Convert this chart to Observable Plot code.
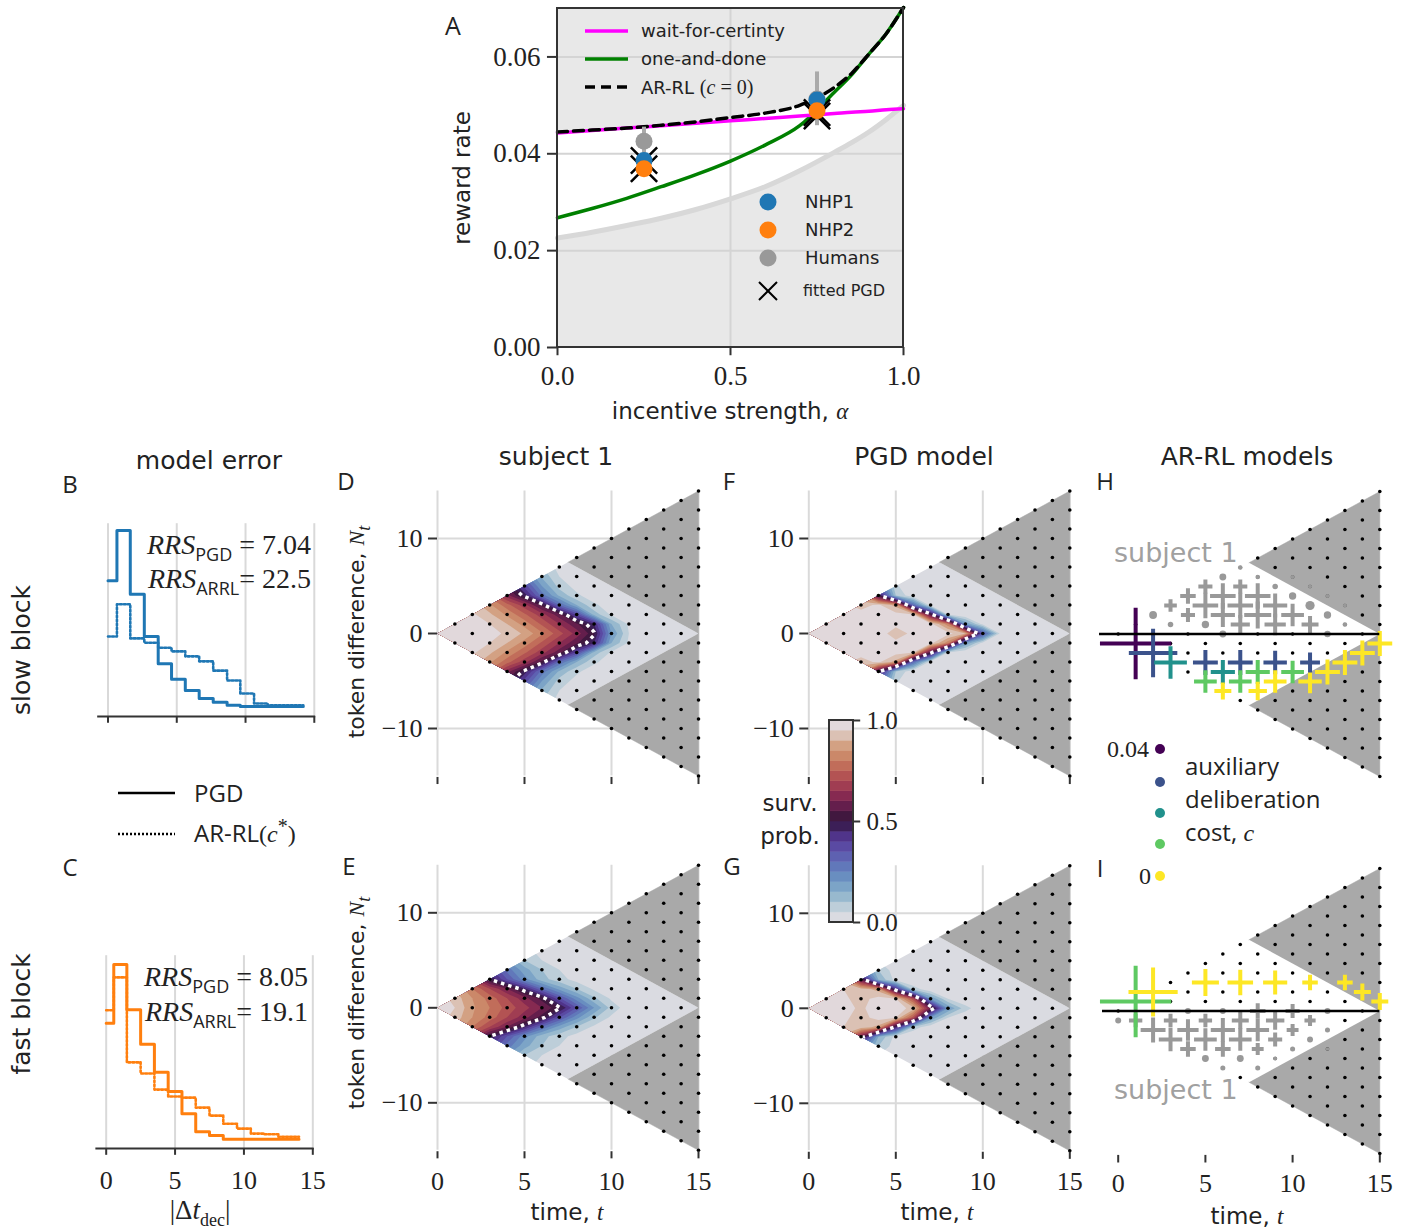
<!DOCTYPE html>
<html>
<head>
<meta charset="utf-8">
<script src="https://cdn.jsdelivr.net/npm/d3@7"></script>
<script src="https://cdn.jsdelivr.net/npm/@observablehq/plot@0.6"></script>
<style>
html,body{margin:0;padding:0;background:#fff;}
#fig{position:relative;width:1407px;height:1230px;overflow:hidden;background:#fff;color:#222;}
#fig > svg{position:absolute;left:0;top:0;}
.t{position:absolute;white-space:nowrap;line-height:1.15;}
.serif{font-family:"Liberation Serif","DejaVu Serif",serif;}
.ital{font-family:"Liberation Serif","DejaVu Serif",serif;font-style:italic;}
sub,sup{line-height:0;}
</style>
</head>
<body>
<div id="fig"></div>
<script>
// ================= DATA =================
// Panel A: reward rate vs incentive strength
const alphaGrid        = [0, 0.1, 0.2, 0.3, 0.4, 0.5, 0.6, 0.7, 0.8, 0.85, 0.9, 0.95, 1.0];
const waitForCertainty = [0.0443,0.0448,0.0453,0.0458,0.0463,0.0468,0.0473,0.0478,0.0483,0.0486,0.0488,0.0491,0.0493];
const oneAndDone       = [0.0268,0.0287,0.0308,0.0332,0.0357,0.0385,0.0418,0.0458,0.0527,0.0563,0.0606,0.0648,0.0702];
const arrlC0           = [0.0445,0.0449,0.0453,0.0459,0.0466,0.0475,0.0484,0.0500,0.0537,0.0566,0.0606,0.0648,0.0702];
const lowerBound       = [0.0226,0.0238,0.0252,0.0267,0.0285,0.0307,0.0332,0.0365,0.0403,0.0423,0.0445,0.0471,0.0500];
const aXTicks = [0, 0.5, 1.0];
const aYTicks = [0, 0.02, 0.04, 0.06];

const pointAlpha = [0.25, 0.75];
const nhp1Rate   = [0.0386, 0.0511];
const nhp2Rate   = [0.0369, 0.0489];
const humanRate  = [0.0426, 0.0513];
const humanLo    = [0.0400, 0.0458];
const humanHi    = [0.0455, 0.0569];
const pgdFitNhp1 = [0.0386, 0.0485];
const pgdFitNhp2 = [0.0369, 0.0478];

// Panels B, C: model error histograms (|Δt_dec|)
const histTicks = [0, 5, 10, 15];
const slowEdges = [0,0.65,1.62,2.64,3.65,4.62,5.62,6.63,7.65,8.66,9.62,10.62,11.62,14.2];
const slowPGD   = [0.219,0.300,0.197,0.129,0.085,0.060,0.042,0.029,0.023,0.018,0.016,0.016,0.016];
const slowARRL  = [0.129,0.181,0.126,0.119,0.111,0.105,0.097,0.089,0.074,0.058,0.037,0.021,0.018];
const fastEdges = [0,0.55,1.5,2.5,3.5,4.5,5.5,6.5,7.5,8.5,9.5,10.5,11.5,12.5,14.0];
const fastPGD   = [0.202,0.297,0.224,0.168,0.123,0.092,0.056,0.027,0.021,0.015,0.015,0.015,0.015,0.015];
const fastARRL  = [0.223,0.276,0.139,0.121,0.095,0.084,0.082,0.066,0.053,0.040,0.032,0.024,0.023,0.019];

// Panels D-G: survival probability, rows |N| = 0..8, columns t = 0..15
const survD = [
  [1.00,0.99,0.99,0.97,0.94,0.89,0.81,0.72,0.63,0.51,0.20,0.05,0.01,0,0,0],
  [0.99,0.99,0.98,0.95,0.90,0.83,0.74,0.65,0.56,0.45,0.15,0.04,0,0,0,0],
  [0.99,0.98,0.96,0.91,0.84,0.76,0.67,0.57,0.38,0.13,0.04,0,0,0,0,0],
  [0.98,0.97,0.93,0.86,0.77,0.67,0.53,0.30,0.15,0.06,0.02,0,0,0,0,0],
  [0.95,0.92,0.87,0.78,0.62,0.48,0.28,0.14,0.06,0.02,0,0,0,0,0,0],
  [0.92,0.88,0.80,0.70,0.55,0.38,0.20,0.08,0.03,0,0,0,0,0,0,0],
  [0.86,0.80,0.72,0.60,0.45,0.28,0.14,0.05,0.01,0,0,0,0,0,0,0],
  [0.80,0.72,0.62,0.50,0.38,0.22,0.10,0.03,0,0,0,0,0,0,0,0],
  [0.72,0.64,0.54,0.42,0.30,0.17,0.07,0.02,0,0,0,0,0,0,0,0]
];
const survE = [
  [1.00,0.95,0.86,0.80,0.73,0.67,0.60,0.51,0.35,0.20,0.08,0.02,0,0,0,0],
  [0.98,0.93,0.85,0.78,0.70,0.62,0.53,0.36,0.22,0.11,0.04,0.01,0,0,0,0],
  [0.97,0.90,0.80,0.70,0.60,0.46,0.30,0.18,0.10,0.04,0.01,0,0,0,0,0],
  [0.88,0.80,0.68,0.50,0.35,0.22,0.12,0.07,0.03,0.01,0,0,0,0,0,0],
  [0.78,0.68,0.55,0.42,0.28,0.17,0.10,0.05,0.02,0,0,0,0,0,0,0],
  [0.70,0.58,0.45,0.32,0.20,0.10,0.05,0.02,0,0,0,0,0,0,0,0],
  [0.60,0.48,0.35,0.25,0.15,0.08,0.02,0,0,0,0,0,0,0,0,0],
  [0.50,0.40,0.28,0.18,0.10,0.04,0.01,0,0,0,0,0,0,0,0,0],
  [0.42,0.32,0.22,0.13,0.07,0.02,0,0,0,0,0,0,0,0,0,0]
];
const survF = [
  [0.99,0.99,0.99,0.98,0.97,0.93,0.96,0.98,0.97,0.90,0.35,0.04,0,0,0,0],
  [0.99,0.99,0.99,0.98,0.97,0.96,0.97,0.97,0.82,0.20,0.03,0,0,0,0,0],
  [0.99,0.99,0.98,0.97,0.97,0.97,0.95,0.54,0.04,0,0,0,0,0,0,0],
  [0.97,0.97,0.96,0.93,0.96,0.88,0.30,0.02,0,0,0,0,0,0,0,0],
  [0.92,0.92,0.90,0.85,0.52,0.10,0.01,0,0,0,0,0,0,0,0,0],
  [0.80,0.78,0.72,0.60,0.35,0.06,0,0,0,0,0,0,0,0,0,0],
  [0.70,0.65,0.55,0.40,0.20,0.03,0,0,0,0,0,0,0,0,0,0],
  [0.60,0.50,0.40,0.25,0.10,0.01,0,0,0,0,0,0,0,0,0,0],
  [0.50,0.40,0.30,0.15,0.05,0,0,0,0,0,0,0,0,0,0,0]
];
const survG = [
  [0.99,0.99,0.97,0.94,0.98,0.98,0.93,0.58,0.20,0.07,0.01,0,0,0,0,0],
  [0.99,0.98,0.96,0.93,0.97,0.95,0.72,0.20,0.05,0.01,0,0,0,0,0,0],
  [0.98,0.97,0.95,0.93,0.88,0.45,0.08,0.01,0,0,0,0,0,0,0,0],
  [0.94,0.92,0.88,0.58,0.15,0.03,0,0,0,0,0,0,0,0,0,0],
  [0.80,0.70,0.55,0.30,0.10,0.02,0,0,0,0,0,0,0,0,0,0],
  [0.65,0.55,0.40,0.20,0.05,0,0,0,0,0,0,0,0,0,0,0],
  [0.50,0.40,0.28,0.12,0.02,0,0,0,0,0,0,0,0,0,0,0],
  [0.40,0.30,0.18,0.06,0,0,0,0,0,0,0,0,0,0,0,0],
  [0.30,0.20,0.10,0.03,0,0,0,0,0,0,0,0,0,0,0,0]
];
const timeTicks = [0, 5, 10, 15];
const tokenTicks = [-10, 0, 10];

// Panels H, I: decision states [t, N, weight] and model crosses [t, N, weight, cost]
const costLevels = [0.04, 0.03, 0.02, 0.01, 0];
const costColors = ["#440154", "#3b528b", "#21918c", "#5ec962", "#fde725"];
const subjCrossH = [[3,3,0.18],[4,4,0.22],[4,2,0.2],[5,5,0.2],[5,3,0.36],[6,4,0.36],[6,2,0.34],[7,5,0.2],
  [7,3,0.36],[7,1,0.27],[8,4,0.36],[8,2,0.38],[9,3,0.34],[9,1,0.3],[10,2,0.32],[11,1,0.24]];
const subjDotH = [[2,2,0.17],[3,1,0.12],[5,1,0.16],[6,0,0.15],[6,6,0.15],[7,7,0.1],[8,6,0.1],[9,5,0.12],
  [10,4,0.16],[11,3,0.2],[12,2,0.16],[13,1,0.1],[12,0,0.14],[10,6,0.09],[11,5,0.09],[12,4,0.09],[13,3,0.09]];
const modelH = [[15,-1,0.35,0],[14,-2,0.35,0],[13,-3,0.35,0],[12,-4,0.35,0],[11,-5,0.33,0],[9,-5,0.32,0],[8,-6,0.26,0],[6,-6,0.24,0],
  [5,-5,0.32,0.01],[7,-5,0.32,0.01],[8,-4,0.34,0.01],[10,-4,0.32,0.01],
  [3,-3,0.46,0.02],[6,-4,0.34,0.02],
  [2,-2,0.68,0.03],[5,-3,0.35,0.03],[7,-3,0.35,0.03],[9,-3,0.33,0.03],[11,-3,0.28,0.03],
  [1,-1,1.0,0.04]];
const subjCrossI = [[1,-1,0.19],[2,-2,0.35],[3,-1,0.19],[3,-3,0.33],[4,-2,0.3],[4,-4,0.22],[5,-1,0.19],[5,-3,0.32],
  [6,-2,0.34],[6,-4,0.22],[7,-1,0.24],[7,-3,0.32],[8,0,0.22],[8,-2,0.32],[8,-4,0.17],[9,-1,0.26],[9,-3,0.2],
  [10,0,0.2],[10,-2,0.17],[11,-1,0.16]];
const subjDotI = [[0,-1,0.13],[4,0,0.13],[6,0,0.13],[5,-5,0.15],[6,-6,0.11],[7,-5,0.15],[8,-6,0.11],[9,-5,0.09],
  [10,-4,0.11],[11,-3,0.13],[12,0,0.13],[12,-2,0.11],[12,-4,0.08]];
const modelI = [[2,2,0.69,0],[5,3,0.38,0],[7,3,0.36,0],[9,3,0.34,0],[11,3,0.22,0],[13,3,0.22,0],[14,2,0.24,0],[15,1,0.24,0],
  [1,1,1.0,0.01]];

// twilight-like colour stops (0 → 1)
const twilightStops = ["#e2dde3","#d2d8df","#a8c3d2","#88afca","#6f99c3","#6383bd","#5f6cb6","#5d55ab","#573e9b","#482a78",
  "#2f1436","#521b48","#76214f","#953252","#ab4751","#bb5f55","#c67b5f","#cf9472","#d6ae94","#dfd3d3","#e2dce2"];

// ================= HELPERS =================
const fig = document.getElementById("fig");
const SERIF = '"Liberation Serif","DejaVu Serif",serif';
const SANS = '"DejaVu Sans",sans-serif';
const OPEN = '"Open Sans","DejaVu Sans",sans-serif';
const base = {width: 1407, height: 1230, margin: 0, style: {background: "none", fontFamily: SANS, overflow: "visible"}};
const twilight = d3.piecewise(d3.interpolateRgb, twilightStops);
const survLevels = d3.range(20).map(k => k / 20);
const colorOpt = {type: "linear", domain: [-0.025, 0.975], interpolate: twilight};
const diamond = [[0,0],[7.5,7.5],[15,0],[7.5,-7.5]];
const triRows = [[7.5,7.5,0],[15,15,0],[15,0,0],[7.5,-7.5,1],[15,-15,1],[15,0,1]];
const lattice = [];
for (let t = 0; t <= 15; t++) for (let N = -t; N <= t; N += 2) lattice.push([t, N]);

function mount(svg) { svg.style.position = "absolute"; svg.style.left = "0px"; svg.style.top = "0px"; fig.appendChild(svg); return svg; }
let clipCount = 0;
function clipMarks(svg, label, poly) {
  const sx = svg.scale("x"), sy = svg.scale("y");
  const ns = "http://www.w3.org/2000/svg";
  const id = "clipdiamond" + (clipCount++);
  const defs = document.createElementNS(ns, "defs");
  const cp = document.createElementNS(ns, "clipPath");
  cp.setAttribute("id", id);
  const pg = document.createElementNS(ns, "polygon");
  pg.setAttribute("points", poly.map(([x, y]) => sx.apply(x) + "," + sy.apply(y)).join(" "));
  cp.appendChild(pg); defs.appendChild(cp);
  svg.insertBefore(defs, svg.firstChild);
  svg.querySelectorAll('g[aria-label="' + label + '"]').forEach(g => g.setAttribute("clip-path", "url(#" + id + ")"));
}
function txt(html, x, y, o = {}) {
  const d = document.createElement("div");
  d.className = "t";
  d.innerHTML = html;
  d.style.left = x + "px"; d.style.top = y + "px";
  d.style.fontSize = (o.size || 24) + "px";
  d.style.fontFamily = o.family || SANS;
  if (o.color) d.style.color = o.color;
  const ax = o.anchor === "start" ? "0" : o.anchor === "end" ? "-100%" : "-50%";
  d.style.transform = `translate(${ax},-50%)` + (o.rotate ? ` rotate(${o.rotate}deg)` : "");
  fig.appendChild(d);
}
const fmtTick = d => d < 0 ? "\u2212" + (-d) : String(d);

// ================= PANEL A =================
{
  const idx = alphaGrid.map((_, i) => i);
  const P = [0, 1];
  const svg = Plot.plot({...base,
    x: {domain: [0, 1], range: [557, 903], axis: null},
    y: {domain: [0, 0.07], range: [347, 8], axis: null},
    marks: [
      Plot.rect([0], {x1: 0, x2: 1, y1: 0, y2: 0.07, fill: "#e8e8e8"}),
      Plot.areaY(idx, {x: i => alphaGrid[i], y1: i => lowerBound[i], y2: i => arrlC0[i], fill: "white", curve: "monotone-x"}),
      Plot.ruleX([0.5], {y1: 0, y2: 0.07, stroke: "#d4d4d4", strokeWidth: 2}),
      Plot.ruleY([0.02, 0.04, 0.06], {x1: 0, x2: 1, stroke: "#d4d4d4", strokeWidth: 2}),
      Plot.line(idx, {x: i => alphaGrid[i], y: i => lowerBound[i], stroke: "#d8d8d8", strokeWidth: 5, curve: "monotone-x"}),
      Plot.line(idx, {x: i => alphaGrid[i], y: i => oneAndDone[i], stroke: "#008000", strokeWidth: 3.5, curve: "monotone-x"}),
      Plot.line(idx, {x: i => alphaGrid[i], y: i => waitForCertainty[i], stroke: "#ff00ff", strokeWidth: 3.5, curve: "monotone-x"}),
      Plot.line(idx, {x: i => alphaGrid[i], y: i => arrlC0[i], stroke: "black", strokeWidth: 3.5, strokeDasharray: "10,6", curve: "monotone-x"}),
      Plot.ruleX(P, {x: i => pointAlpha[i], y1: i => humanLo[i], y2: i => humanHi[i], stroke: "#aaaaaa", strokeWidth: 4}),
      Plot.dot(P, {x: i => pointAlpha[i], y: i => pgdFitNhp1[i], symbol: "times", r: 12, stroke: "black", strokeWidth: 2.5}),
      Plot.dot(P, {x: i => pointAlpha[i], y: i => pgdFitNhp2[i], symbol: "times", r: 12, stroke: "black", strokeWidth: 2.5}),
      Plot.dot(P, {x: i => pointAlpha[i], y: i => humanRate[i], r: 8.5, fill: "#999999"}),
      Plot.dot(P, {x: i => pointAlpha[i], y: i => nhp1Rate[i], r: 8.5, fill: "#1f77b4"}),
      Plot.dot(P, {x: i => pointAlpha[i], y: i => nhp2Rate[i], r: 8.5, fill: "#ff7f0e"}),
      Plot.rect([0], {x1: 0, x2: 1, y1: 0, y2: 0.07, fill: "none", stroke: "#333", strokeWidth: 2}),
      Plot.ruleY(aYTicks, {x1: -0.029, x2: 0, stroke: "#333", strokeWidth: 2}),
      Plot.ruleX(aXTicks, {y1: 0, y2: -0.0017, stroke: "#333", strokeWidth: 2}),
      Plot.text(aYTicks, {x: 0, y: d => d, text: d => d.toFixed(2), textAnchor: "end", dx: -17, fontFamily: SERIF, fontSize: 27, fill: "#222"}),
      Plot.text(aXTicks, {x: d => d, y: 0, text: d => d.toFixed(1), dy: 29, fontFamily: SERIF, fontSize: 27, fill: "#222"})
    ]
  });
  mount(svg);
}

// ================= PANELS B, C =================
function histPanel(edges, hSolid, hDot, color, xr, yr, showLabels) {
  const pts = h => edges.map((e, i) => [e, h[Math.min(i, h.length - 1)]]);
  const marks = [
    Plot.ruleX(histTicks, {y1: 0, y2: 0.311, stroke: "#d9d9d9", strokeWidth: 2}),
    Plot.ruleY([0], {x1: -0.75, x2: 15.1, stroke: "#333", strokeWidth: 2}),
    Plot.ruleX(histTicks, {y1: 0, y2: -0.011, stroke: "#333", strokeWidth: 2}),
    Plot.line(pts(hDot), {x: d => d[0], y: d => d[1], curve: "step-after", stroke: color, strokeWidth: 2.6, strokeDasharray: "2,2"}),
    Plot.line(pts(hSolid), {x: d => d[0], y: d => d[1], curve: "step-after", stroke: color, strokeWidth: 3})
  ];
  if (showLabels) marks.push(Plot.text(histTicks, {x: d => d, y: 0, text: d => String(d), dy: 32, fontFamily: SERIF, fontSize: 26, fill: "#222"}));
  mount(Plot.plot({...base,
    x: {domain: [0, 15], range: xr, axis: null},
    y: {domain: [0, 0.311], range: yr, axis: null},
    marks}));
}
histPanel(slowEdges, slowPGD, slowARRL, "#1f77b4", [107.5, 313.8], [716, 523.2], false);
histPanel(fastEdges, fastPGD, fastARRL, "#ff7f0e", [105.7, 312.3], [1148, 955.2], true);

// ================= PANELS D-G =================
function fullGrid(rows) { const out = []; for (let N = 8; N >= -8; N--) out.push(...rows[Math.abs(N)]); return out; }
function survPanel(rows, xr, yr, showX) {
  const g = fullGrid(rows);
  const cOpt = {width: 16, height: 17, x1: -0.5, x2: 15.5, y1: 8.5, y2: -8.5};
  const marks = [
    Plot.ruleX(timeTicks, {y1: -15, y2: 15, stroke: "#dadada", strokeWidth: 2}),
    Plot.ruleY(tokenTicks, {x1: 0, x2: 15, stroke: "#dadada", strokeWidth: 2}),
    Plot.contour(g, {...cOpt, thresholds: survLevels, fill: Plot.identity}),
    Plot.contour(g, {...cOpt, value: Plot.identity, thresholds: [0.5], fill: "none", stroke: "white", strokeWidth: 3.5, strokeDasharray: "3.5,4"}),
    Plot.line(triRows, {x: d => d[0], y: d => d[1], z: d => d[2], fill: "#a9a9a9", stroke: "#a9a9a9", strokeWidth: 0.5}),
    Plot.dot(lattice.filter(d => d[0] > 0), {x: d => d[0], y: d => d[1], r: 1.8, fill: "black"}),
    Plot.ruleY(tokenTicks, {x1: -0.52, x2: 0, stroke: "#333", strokeWidth: 2}),
    Plot.text(tokenTicks, {x: 0, y: d => d, text: fmtTick, textAnchor: "end", dx: -15, fontFamily: SERIF, fontSize: 26, fill: "#222"}),
    Plot.ruleX(timeTicks, {y1: -15.15, y2: -15.9, stroke: "#333", strokeWidth: 2})
  ];
  if (showX) marks.push(Plot.text(timeTicks, {x: d => d, y: -15, text: d => String(d), dy: 31, fontFamily: SERIF, fontSize: 26, fill: "#222"}));
  const svg = Plot.plot({...base,
    x: {domain: [0, 15], range: xr, axis: null},
    y: {domain: [-15, 15], range: yr, axis: null},
    color: colorOpt,
    marks});
  clipMarks(svg, "contour", diamond);
  mount(svg);
}
survPanel(survD, [437, 698], [775.5, 490.5], false);
survPanel(survE, [437, 698], [1149.8, 864.8], true);
survPanel(survF, [808.3, 1069.3], [775.5, 490.5], false);
survPanel(survG, [808.3, 1069.3], [1150.3, 865.3], true);

// ================= PANELS H, I =================
function arrlPanel(yr, subjCross, subjDots, models, showX, lineStart) {
  const marks = [
    Plot.line(triRows, {x: d => d[0], y: d => d[1], z: d => d[2], fill: "#a9a9a9", stroke: "#a9a9a9", strokeWidth: 0.5}),
    Plot.dot(lattice, {x: d => d[0], y: d => d[1], r: 1.8, fill: "black"}),
    Plot.dot(subjDots, {x: d => d[0], y: d => d[1], r: d => d[2], fill: "#999999"}),
    Plot.dot(subjCross, {x: d => d[0], y: d => d[1], r: d => d[2], symbol: "plus", stroke: "#999999", strokeWidth: 4}),
    Plot.dot(models, {x: d => d[0], y: d => d[1], r: d => d[2], symbol: "plus", stroke: d => d[3], strokeWidth: 4}),
    Plot.ruleY([0], {x1: lineStart, x2: 15, stroke: "black", strokeWidth: 2.5})
  ];
  if (showX) {
    marks.push(Plot.ruleX(timeTicks, {y1: -15.2, y2: -16, stroke: "#333", strokeWidth: 2}));
    marks.push(Plot.text(timeTicks, {x: d => d, y: -15, text: d => String(d), dy: 30, fontFamily: SERIF, fontSize: 26, fill: "#222"}));
  }
  mount(Plot.plot({...base,
    x: {domain: [0, 15], range: [1117.7, 1379.3], axis: null},
    y: {domain: [-15, 15], range: yr, axis: null},
    r: {type: "linear", domain: [0, 1], range: [0, 23]},
    color: {type: "ordinal", domain: costLevels, range: costColors},
    marks}));
}
arrlPanel([776, 491], subjCrossH, subjDotH, modelH, false, -1.07);
arrlPanel([1153, 868], subjCrossI, subjDotI, modelI, true, -0.9);

// ================= COLORBAR =================
mount(Plot.plot({...base,
  x: {domain: [0, 1], range: [829, 853], axis: null},
  y: {domain: [0, 1], range: [922, 720], axis: null},
  color: colorOpt,
  marks: [
    Plot.rect(survLevels, {x1: 0, x2: 1, y1: d => d, y2: d => d + 0.05, fill: d => d, stroke: d => d, strokeWidth: 0.5}),
    Plot.rect([0], {x1: 0, x2: 1, y1: 0, y2: 1, fill: "none", stroke: "#333", strokeWidth: 2}),
    Plot.ruleY([0, 0.5, 1], {x1: 1, x2: 1.3, stroke: "#333", strokeWidth: 2}),
    Plot.text([0, 0.5, 1], {x: 1, y: d => d, text: d => d.toFixed(1), textAnchor: "start", dx: 13, fontFamily: SERIF, fontSize: 25, fill: "#222"})
  ]
}));

// ================= LEGEND SWATCHES =================
{
  const ns = "http://www.w3.org/2000/svg";
  const s = document.createElementNS(ns, "svg");
  s.setAttribute("width", 1407); s.setAttribute("height", 1230);
  s.innerHTML = `
    <line x1="585" x2="628" y1="31" y2="31" stroke="#ff00ff" stroke-width="3.5"/>
    <line x1="585" x2="628" y1="59" y2="59" stroke="#008000" stroke-width="3.5"/>
    <line x1="585" x2="628" y1="87" y2="87" stroke="black" stroke-width="3.5" stroke-dasharray="10,6"/>
    <circle cx="768" cy="202" r="8.5" fill="#1f77b4"/>
    <circle cx="768" cy="230" r="8.5" fill="#ff7f0e"/>
    <circle cx="768" cy="258" r="8.5" fill="#999999"/>
    <path d="M759,282L777,300M777,282L759,300" stroke="black" stroke-width="2"/>
    <line x1="118" x2="175" y1="793" y2="793" stroke="black" stroke-width="2.5"/>
    <line x1="118" x2="175" y1="834" y2="834" stroke="black" stroke-width="2.5" stroke-dasharray="2,2"/>
    ${costColors.map((c, i) => `<circle cx="1160" cy="${[749,782,813,844,876][i]}" r="5" fill="${c}"/>`).join("")}
  `;
  mount(s);
}

// ================= TEXT =================
txt("A", 453, 25, {size: 25, family: OPEN});
txt("reward rate", 462, 178, {size: 23, rotate: -90});
txt('incentive strength, <span class="ital">α</span>', 730, 412, {size: 23});
txt("wait-for-certinty", 641, 31, {anchor: "start", size: 18});
txt("one-and-done", 641, 59, {anchor: "start", size: 18});
txt('AR-RL <span class="serif" style="font-size:20px">(<i>c</i> = 0)</span>', 641, 87, {anchor: "start", size: 18});
txt("NHP1", 805, 202, {anchor: "start", size: 18});
txt("NHP2", 805, 230, {anchor: "start", size: 18});
txt("Humans", 805, 258, {anchor: "start", size: 18});
txt("fitted PGD", 803, 291, {anchor: "start", size: 16});

txt("model error", 209, 461, {size: 25});
txt("subject 1", 556, 457, {size: 25});
txt("PGD model", 924, 457, {size: 25});
txt("AR-RL models", 1247, 457, {size: 25});
[["B",70,484],["C",70,867],["D",346,481],["E",349,866],["F",729,481],["G",732,866],["H",1105,481],["I",1100,868]]
  .forEach(([l, x, y]) => txt(l, x, y, {size: 24, family: OPEN}));

txt("slow block", 22, 650, {size: 25, rotate: -90});
txt("fast block", 22, 1014, {size: 25, rotate: -90});
const subS = 'style="font-family:\'Open Sans\',sans-serif;font-style:normal;font-size:18px"';
txt(`<i>RRS</i><sub ${subS}>PGD</sub> = 7.04`, 311, 545, {anchor: "end", size: 28, family: SERIF});
txt(`<i>RRS</i><sub ${subS}>ARRL</sub>= 22.5`, 311, 579, {anchor: "end", size: 28, family: SERIF});
txt(`<i>RRS</i><sub ${subS}>PGD</sub> = 8.05`, 308, 977, {anchor: "end", size: 28, family: SERIF});
txt(`<i>RRS</i><sub ${subS}>ARRL</sub>= 19.1`, 308, 1012, {anchor: "end", size: 28, family: SERIF});
txt("PGD", 194, 793, {anchor: "start", size: 24, family: OPEN});
txt('AR-RL<span class="serif">(<i>c</i><sup>*</sup>)</span>', 194, 834, {anchor: "start", size: 24, family: OPEN});
txt('|Δ<i>t</i><sub style="font-size:18px">dec</sub>|', 200, 1211, {size: 27, family: SERIF});

txt('token difference, <span class="ital">N<sub>t</sub></span>', 357, 632, {size: 22, rotate: -90});
txt('token difference, <span class="ital">N<sub>t</sub></span>', 357, 1003, {size: 22, rotate: -90});
txt('time, <span class="ital">t</span>', 567, 1213, {size: 23});
txt('time, <span class="ital">t</span>', 937, 1213, {size: 23});
txt('time, <span class="ital">t</span>', 1247, 1217, {size: 23});
txt("surv.", 790, 803, {size: 23});
txt("prob.", 790, 836, {size: 23});

txt("subject 1", 1114, 553, {anchor: "start", size: 27, color: "#a0a0a0"});
txt("subject 1", 1114, 1090, {anchor: "start", size: 27, color: "#a0a0a0"});
txt("0.04", 1149, 750, {anchor: "end", size: 24, family: SERIF});
txt("0", 1151, 877, {anchor: "end", size: 24, family: SERIF});
txt("auxiliary", 1185, 766, {anchor: "start", size: 24, family: OPEN});
txt("deliberation", 1185, 799, {anchor: "start", size: 24, family: OPEN});
txt('cost, <span class="ital">c</span>', 1185, 833, {anchor: "start", size: 24, family: OPEN});
</script>
</body>
</html>
